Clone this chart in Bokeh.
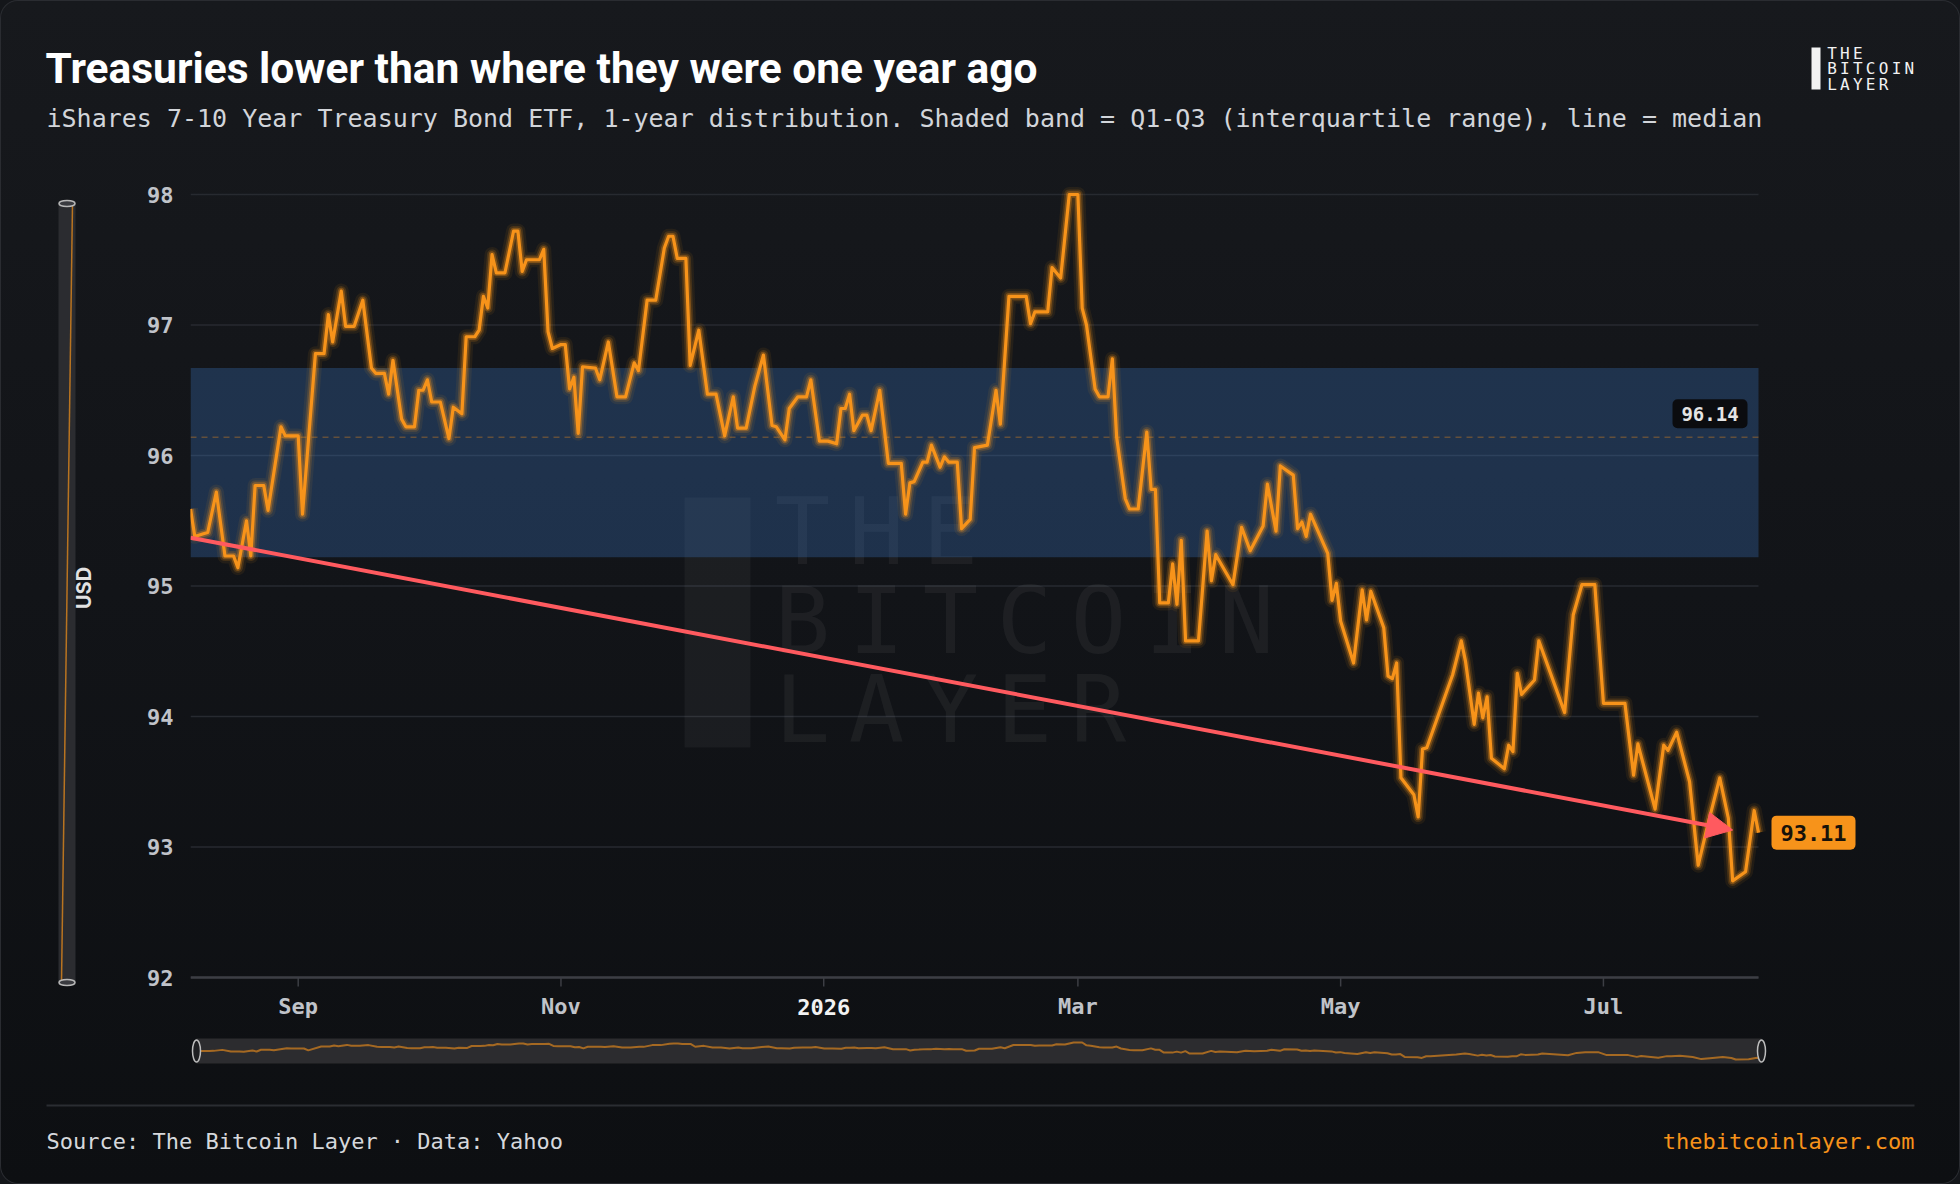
import math
import pandas as pd
from bokeh.plotting import figure
from bokeh.models import Range1d, FixedTicker, Arrow, NormalHead, ColumnDataSource
from bokeh.layouts import column, row
from bokeh.embed import file_html
from bokeh.resources import INLINE
from bokeh.core.properties import value

# ---------------- data ----------------
TITLE = "Treasuries lower than where they were one year ago"
SUBTITLE = ("iShares 7-10 Year Treasury Bond ETF, 1-year distribution. "
            "Shaded band = Q1-Q3 (interquartile range), line = median")
SOURCE = "Source: The Bitcoin Layer \u00b7 Data: Yahoo"
SITE = "thebitcoinlayer.com"
Y_LABEL = "USD"

START_DATE = "2025-08-07"
DAY_OFFSETS = [
    0, 1, 3, 4, 6, 8, 10, 11, 13, 14, 15, 17, 18, 21, 22, 25, 26, 29, 31, 32,
    33, 35, 36, 38, 40, 42, 43, 45, 46, 47, 49, 50, 52, 53, 54, 55, 56, 58, 60, 61,
    63, 64, 66, 67, 68, 69, 70, 71, 73, 75, 76, 77, 78, 81, 82, 83, 84, 86, 87, 88,
    89, 90, 91, 94, 95, 97, 99, 101, 103, 104, 106, 108, 110, 111, 112, 113, 115, 116, 118, 120,
    122, 124, 126, 127, 129, 131, 133, 135, 136, 138, 139, 141, 143, 144, 146, 148, 150, 151, 152, 153,
    154, 156, 157, 158, 160, 162, 165, 166, 167, 168, 170, 171, 172, 174, 175, 176, 178, 179, 181, 182,
    185, 187, 188, 190, 194, 195, 196, 199, 200, 202, 204, 206, 207, 208, 210, 211, 213, 214, 215, 217,
    218, 220, 222, 223, 224, 225, 227, 228, 229, 230, 231, 234, 236, 237, 238, 242, 244, 246, 249, 250,
    252, 253, 256, 257, 258, 259, 260, 264, 265, 266, 267, 270, 272, 273, 274, 277, 278, 279, 280, 281,
    284, 285, 286, 287, 293, 295, 296, 298, 299, 300, 301, 302, 305, 306, 307, 308, 309, 312, 313, 319,
    321, 323, 326, 328, 333, 335, 336, 340, 342, 343, 345, 348, 350, 352, 355, 357, 358, 361, 363, 364,
]
PRICES = [
    95.59, 95.38, 95.40, 95.41, 95.72, 95.23, 95.23, 95.14, 95.50, 95.23, 95.77, 95.77, 95.58, 96.22, 96.15, 96.15, 95.55, 96.78, 96.78, 97.08,
    96.87, 97.26, 96.99, 96.99, 97.19, 96.67, 96.63, 96.63, 96.47, 96.73, 96.28, 96.22, 96.22, 96.50, 96.50, 96.58, 96.41, 96.41, 96.13, 96.37,
    96.32, 96.91, 96.91, 96.96, 97.22, 97.13, 97.54, 97.40, 97.40, 97.72, 97.72, 97.41, 97.50, 97.50, 97.58, 96.95, 96.82, 96.85, 96.85, 96.51,
    96.60, 96.17, 96.68, 96.67, 96.58, 96.87, 96.45, 96.45, 96.71, 96.65, 97.19, 97.19, 97.59, 97.68, 97.68, 97.51, 97.51, 96.69, 96.96, 96.47,
    96.47, 96.15, 96.45, 96.21, 96.21, 96.53, 96.77, 96.23, 96.22, 96.12, 96.36, 96.45, 96.45, 96.58, 96.11, 96.11, 96.09, 96.36, 96.36, 96.47,
    96.19, 96.31, 96.31, 96.19, 96.50, 95.94, 95.94, 95.55, 95.79, 95.80, 95.95, 95.95, 96.08, 95.91, 95.99, 95.95, 95.95, 95.44, 95.51, 96.06,
    96.08, 96.50, 96.24, 97.22, 97.22, 97.01, 97.10, 97.10, 97.44, 97.36, 98.00, 98.00, 97.13, 97.00, 96.51, 96.45, 96.45, 96.74, 96.14, 95.67,
    95.59, 95.59, 96.18, 95.74, 95.74, 94.87, 94.87, 95.17, 94.86, 95.35, 94.58, 94.58, 95.42, 95.04, 95.24, 95.01, 95.45, 95.27, 95.46, 95.78,
    95.42, 95.92, 95.85, 95.44, 95.49, 95.38, 95.55, 95.25, 94.89, 95.02, 94.73, 94.41, 94.97, 94.74, 94.96, 94.68, 94.31, 94.29, 94.41, 93.53,
    93.40, 93.23, 93.75, 93.76, 94.32, 94.58, 94.42, 93.94, 94.18, 93.99, 94.15, 93.68, 93.60, 93.78, 93.73, 94.33, 94.17, 94.28, 94.58, 94.03,
    94.78, 95.01, 95.01, 94.10, 94.10, 93.55, 93.79, 93.29, 93.78, 93.74, 93.88, 93.50, 92.86, 93.14, 93.53, 93.22, 92.74, 92.81, 93.28, 93.11,
]
Q1, MEDIAN, Q3 = 95.22, 96.14, 96.67
TREND_DAYS = [0, 358]
TREND_VALUES = [95.37, 93.13]
TICK_DATES = ["2025-09-01", "2025-11-01", "2026-01-01", "2026-03-01", "2026-05-01", "2026-07-01"]
TICK_LABELS = ["Sep", "Nov", "2026", "Mar", "May", "Jul"]
Y_TICKS = [92, 93, 94, 95, 96, 97, 98]
Y_MIN, Y_MAX = 92, 98

# ---------------- styles / layout ----------------
ORANGE = "#f7931a"
RED = "#ff5a5f"
MONO = "DejaVu Sans Mono"
TICK_COLOR = "#c0c3c9"
W = 1960


def ms(ts):
    return pd.Timestamp(ts).value / 1e6


start = pd.Timestamp(START_DATE)
xs = [ms(start + pd.Timedelta(days=d)) for d in DAY_OFFSETS]
x0, x1 = xs[0], xs[-1]


def clean(fig):
    fig.background_fill_alpha = 0
    fig.border_fill_alpha = 0
    fig.outline_line_color = None
    fig.grid.visible = False
    try:
        fig.frame_align = False
    except Exception:
        pass


def rrect(fig, **kw):
    try:
        return fig.rect(border_radius=5, **kw)
    except Exception:
        return fig.rect(**kw)


# ---------------- header ----------------
HDR_H = 173
hdr = figure(width=W, height=HDR_H, x_range=Range1d(0, W), y_range=Range1d(HDR_H, 0),
             x_axis_location=None, y_axis_location=None, toolbar_location=None,
             output_backend="svg", min_border=0)
clean(hdr)
hdr.text(x=[45], y=[67.5], text=[TITLE], text_font=value("Roboto"), text_font_style="bold",
         text_font_size=value("42.5px"), text_color="#ffffff", text_baseline="middle")
hdr.text(x=[46], y=[118], text=[SUBTITLE], text_font=value(MONO),
         text_font_size=value("25px"), text_color="#d2d5da", text_baseline="middle")
hdr.quad(left=[1811], right=[1820], top=[47], bottom=[89], fill_color="#f2f2f2", line_color=None)
lx, ly, lt = [], [], []
for word, mid in [("THE", 52.5), ("BITCOIN", 68), ("LAYER", 83.5)]:
    for i, ch in enumerate(word):
        lx.append(1825 + 12.9 * (i + 0.5)); ly.append(mid); lt.append(ch)
hdr.text(x=lx, y=ly, text=lt, text_font=value(MONO), text_font_size=value("16px"),
         text_color="#f2f2f2", text_align="center", text_baseline="middle")

# ---------------- main chart ----------------
ROW_H = 852
VS_W = 100
MAIN_W = W - VS_W
FR_L, FR_R, FR_T = 90, 80, 11
FRAME_W = MAIN_W - FR_L - FR_R          # 1690, data spans the first 1568 px
FRAME_H = ROW_H - FR_T                  # 841
PLOT_W = 1568
PPU = 783 / (Y_MAX - Y_MIN)             # px per USD
MSPP = (x1 - x0) / PLOT_W               # ms per px
Y_HIGH = Y_MAX + 10 / PPU
Y_LOW = Y_HIGH - FRAME_H / PPU
X_END = x0 + FRAME_W * MSPP

p = figure(width=MAIN_W, height=ROW_H, x_axis_type="datetime",
           x_range=Range1d(x0, X_END), y_range=Range1d(Y_LOW, Y_HIGH),
           toolbar_location=None, output_backend="svg",
           min_border_left=FR_L, min_border_right=FR_R, min_border_top=FR_T, min_border_bottom=0)
clean(p)
p.xaxis.visible = False

p.yaxis.ticker = FixedTicker(ticks=Y_TICKS)
p.yaxis.axis_line_color = None
p.yaxis.major_tick_line_color = None
p.yaxis.minor_tick_line_color = None
p.yaxis.major_tick_out = 0
p.yaxis.major_tick_in = 0
p.yaxis.major_label_standoff = 17
p.yaxis.major_label_text_font = MONO
p.yaxis.major_label_text_font_style = "bold"
p.yaxis.major_label_text_font_size = "22px"
p.yaxis.major_label_text_color = TICK_COLOR


def fx(px):
    return x0 + px * MSPP


def fy(py):
    return Y_MAX - py / PPU


# grid lines over the data span
p.segment(x0=[x0] * len(Y_TICKS), y0=Y_TICKS, x1=[x1] * len(Y_TICKS), y1=Y_TICKS,
          line_color="#272a30", line_width=1.3)

# watermark
p.quad(left=[fx(494)], right=[fx(560)], top=[fy(303)], bottom=[fy(553)],
       fill_color="#ffffff", fill_alpha=0.045, line_color=None)
wx, wy, wt = [], [], []
for word, mid in [("THE", 338), ("BITCOIN", 427), ("LAYER", 516)]:
    for i, ch in enumerate(word):
        wx.append(fx(575 + 74 * (i + 0.5))); wy.append(fy(mid)); wt.append(ch)
p.text(x=wx, y=wy, text=wt, text_font=value(MONO), text_font_size=value("92px"),
       text_color="#ffffff", text_alpha=0.05, text_align="center", text_baseline="middle")

# IQR band and median
p.quad(left=[x0], right=[x1], bottom=[Q1], top=[Q3], fill_color="#3d78c5", fill_alpha=0.3, line_color=None)
p.segment(x0=[x0], y0=[MEDIAN], x1=[x1], y1=[MEDIAN], line_color=ORANGE, line_alpha=0.32,
          line_dash="6 5", line_width=1.5)

# x axis (line, ticks, labels) drawn on the data scale
tick_ms = [ms(t) for t in TICK_DATES]
p.segment(x0=[x0], y0=[Y_MIN], x1=[x1], y1=[Y_MIN], line_color="#3c3e44", line_width=2.5)
p.segment(x0=tick_ms, y0=[Y_MIN] * len(tick_ms), x1=tick_ms, y1=[Y_MIN - 9 / PPU] * len(tick_ms),
          line_color="#3c3e44", line_width=1.5)
tick_src = ColumnDataSource(dict(
    x=tick_ms, y=[Y_MIN - 29 / PPU] * len(tick_ms), t=TICK_LABELS,
    c=["#f2f2f2" if lab == "2026" else TICK_COLOR for lab in TICK_LABELS]))
p.text(x="x", y="y", text="t", source=tick_src, text_color="c", text_font=value(MONO),
       text_font_style="bold", text_font_size=value("22px"), text_align="center",
       text_baseline="middle")

# price line with glow
src = ColumnDataSource(dict(x=xs, y=PRICES))
for lw, la in [(15, 0.08), (10, 0.16), (6.5, 0.32)]:
    p.line("x", "y", source=src, line_color=ORANGE, line_width=lw, line_alpha=la, line_join="round")
p.line("x", "y", source=src, line_color=ORANGE, line_width=3.2, line_join="round")

# trend arrow
t_ms = [ms(start + pd.Timedelta(days=d)) for d in TREND_DAYS]
p.add_layout(Arrow(end=NormalHead(size=26, fill_color=RED, line_color=RED),
                   x_start=t_ms[0], y_start=TREND_VALUES[0], x_end=t_ms[1], y_end=TREND_VALUES[1],
                   line_color=RED, line_width=4))

# median label (inside, above the line) and last value label (right of the data)
med_x = fx(PLOT_W - 11 - 37.5)
med_y = MEDIAN + 23.5 / PPU
rrect(p, x=[med_x], y=[med_y], width=[75], height=[29], width_units="screen", height_units="screen",
      fill_color="#0b0c0f", line_color=None)
p.text(x=[med_x], y=[med_y], text=[f"{MEDIAN:.2f}"], text_font=value(MONO), text_font_style="bold",
       text_font_size=value("19px"), text_color="#e4e4e4", text_align="center", text_baseline="middle")
last_x = fx(PLOT_W + 13 + 42)
rrect(p, x=[last_x], y=[PRICES[-1]], width=[84], height=[34], width_units="screen", height_units="screen",
      fill_color=ORANGE, line_color=None)
p.text(x=[last_x], y=[PRICES[-1]], text=[f"{PRICES[-1]:.2f}"], text_font=value(MONO),
       text_font_style="bold", text_font_size=value("22px"), text_color="#17120a",
       text_align="center", text_baseline="middle")

# ---------------- vertical slider ----------------
vs = figure(width=VS_W, height=ROW_H, x_range=Range1d(0, VS_W), y_range=Range1d(0, FRAME_H),
            x_axis_location=None, y_axis_location=None, toolbar_location=None,
            output_backend="svg", min_border=0, min_border_top=FR_T)
clean(vs)


def yu(yd):
    return ROW_H - yd


vs.quad(left=[58], right=[75], top=[yu(30)], bottom=[yu(809)], fill_color="#2b2c30", line_color=None)
vs.segment(x0=[72], y0=[yu(30)], x1=[61], y1=[yu(809)], line_color=ORANGE, line_alpha=0.7, line_width=1.5)
vs.ellipse(x=[66.5, 66.5], y=[yu(30), yu(809)], width=16, height=6, width_units="screen",
           height_units="screen", fill_color="#3a3b40", line_color="#b8b8b8", line_width=1.5)
vs.text(x=[83.5], y=[yu(414.5)], text=[Y_LABEL], angle=math.pi / 2, text_font=value("Inter"),
        text_font_style="bold", text_font_size=value("20px"), text_color="#e2e2e2",
        text_align="center", text_baseline="middle")

# ---------------- bottom slider ----------------
SL_H = 55
BOX_L, BOX_R = 196, 1761
smpp = (x1 - x0) / (BOX_R - BOX_L)
vmin, vmax = min(PRICES), max(PRICES)
span = (vmax - vmin) / 0.68
lo = vmin - 0.16 * span
hi = lo + span
u = (hi - lo) / 25
sl = figure(width=W, height=SL_H, x_range=Range1d(x0 - BOX_L * smpp, x1 + (W - BOX_R) * smpp),
            y_range=Range1d(lo - 17 * u, hi + 13 * u), x_axis_location=None, y_axis_location=None,
            toolbar_location=None, output_backend="svg", min_border=0)
clean(sl)
sl.quad(left=[x0], right=[x1], bottom=[lo], top=[hi], fill_color="#2c2c2f", line_color=None)
sl.line(xs, PRICES, line_color=ORANGE, line_alpha=0.6, line_width=2)
sl.ellipse(x=[x0, x1], y=[(lo + hi) / 2] * 2, width=8, height=22, width_units="screen",
           height_units="screen", fill_color="#1e1f22", line_color="#bdbdbd", line_width=1.5)

# ---------------- footer ----------------
FT_H = 104
ft = figure(width=W, height=FT_H, x_range=Range1d(0, W), y_range=Range1d(FT_H, 0),
            x_axis_location=None, y_axis_location=None, toolbar_location=None,
            output_backend="svg", min_border=0)
clean(ft)
ft.segment(x0=[46], y0=[25], x1=[1914], y1=[25], line_color="#2a2d32", line_width=2)
ft.text(x=[46], y=[61], text=[SOURCE], text_font=value(MONO), text_font_size=value("22px"),
        text_color="#d6d8dc", text_baseline="middle", text_align="left")
ft.text(x=[1914], y=[61], text=[SITE], text_font=value(MONO), text_font_size=value("22px"),
        text_color=ORANGE, text_baseline="middle", text_align="right")

root = column(hdr, row(vs, p), sl, ft,
              styles={"background": "linear-gradient(180deg, #17191d 0%, #121418 50%, #0d0f12 100%)",
                      "border-radius": "18px",
                      "box-shadow": "inset 0 0 0 1px #2a2c31"})
try:
    from bokeh.models import GlobalInlineStyleSheet
    root.stylesheets = [GlobalInlineStyleSheet(css="html, body { background: #14161a; }")]
except Exception:
    pass

open("out.html", "w").write(file_html(root, INLINE, title="Treasuries"))
